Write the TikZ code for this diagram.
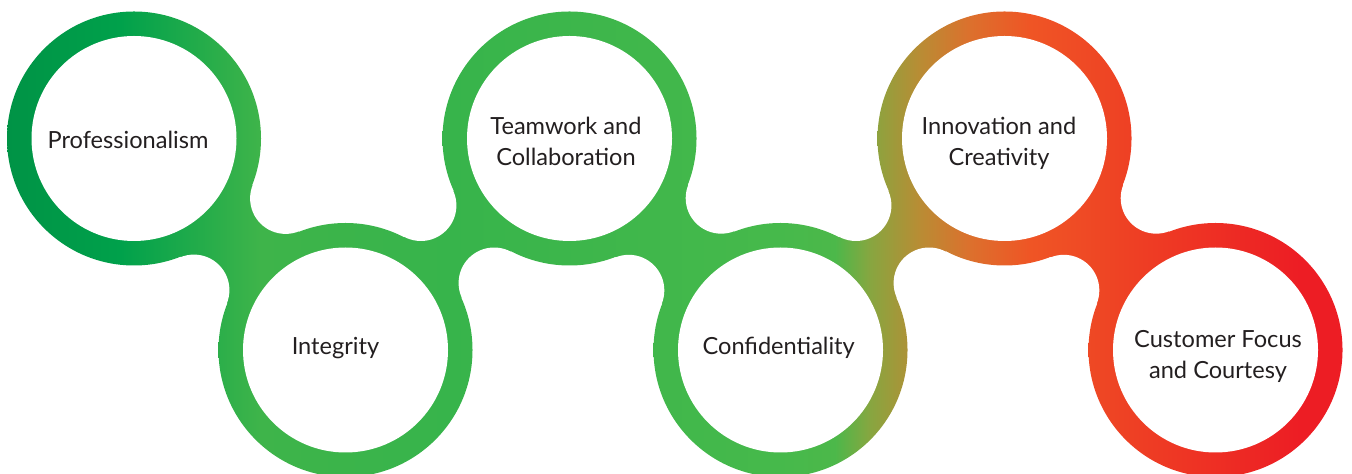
\documentclass[tikz,border=0pt]{standalone}
\usepackage{fontspec}
\setmainfont{Lato}
\definecolor{s0}{RGB}{0,146,69}
\definecolor{s1}{RGB}{0,161,75}
\definecolor{s2}{RGB}{62,180,74}
\definecolor{s3}{RGB}{55,180,75}
\definecolor{s4}{RGB}{70,185,75}
\definecolor{s5}{RGB}{76,184,74}
\definecolor{s6}{RGB}{135,166,64}
\definecolor{s7}{RGB}{185,140,52}
\definecolor{s8}{RGB}{220,112,45}
\definecolor{s9}{RGB}{239,85,37}
\definecolor{s10}{RGB}{238,60,36}
\definecolor{s11}{RGB}{237,29,36}
\definecolor{txt}{RGB}{35,31,32}
\pgfdeclarehorizontalshading{ringshade}{100bp}{color(0bp)=(s0); color(25bp)=(s0); color(29.44bp)=(s1); color(34.6bp)=(s2); color(41.64bp)=(s3); color(53.85bp)=(s4); color(55.88bp)=(s5); color(57.17bp)=(s6); color(59.02bp)=(s7); color(60.87bp)=(s8); color(63.09bp)=(s9); color(67.53bp)=(s10); color(73.08bp)=(s11); color(75bp)=(s11); color(100bp)=(s11)}
\begin{document}
\begin{tikzpicture}[x=0.5pt,y=-0.5pt,
  label/.style={font=\fontsize{11.8}{15.5}\selectfont, text=txt, align=center, inner sep=0pt}]
\useasboundingbox (0,0) rectangle (1352,474);
% circle centres
\coordinate (c1) at (134,138.5);
\coordinate (c2) at (345.5,350);
\coordinate (c3) at (569.5,138.5);
\coordinate (c4) at (780.5,350);
\coordinate (c5) at (1004.5,138.5);
\coordinate (c6) at (1215.5,350);
% fillet centres
\coordinate (f12a) at (285.59,198.41);
\coordinate (f12b) at (193.91,290.09);
\coordinate (f23a) at (494.10,283.01);
\coordinate (f23b) at (420.90,205.49);
\coordinate (f34a) at (721.19,198.17);
\coordinate (f34b) at (628.81,290.33);
\coordinate (f45a) at (929.10,283.01);
\coordinate (f45b) at (855.90,205.49);
\coordinate (f56a) at (1156.19,198.17);
\coordinate (f56b) at (1063.81,290.33);
% gradient rings
\foreach \c in {c1,c2,c3,c4,c5,c6}{
  \begin{scope}
    \clip (\c) circle (127);
    \shade[shading=ringshade] (0,0) rectangle (1352,474);
  \end{scope}}
\foreach \a/\f/\b/\g in {c1/f12a/c2/f12b, c2/f23a/c3/f23b, c3/f34a/c4/f34b, c4/f45a/c5/f45b, c5/f56a/c6/f56b}{
  \begin{scope}
    \clip (\a) -- (\f) -- (\b) -- (\g) -- cycle;
    \shade[shading=ringshade] (0,0) rectangle (1352,474);
  \end{scope}}
% fillets
\foreach \f in {f12a,f12b,f23a,f23b,f34a,f34b,f45a,f45b,f56a,f56b}
  \fill[white] (\f) circle (35.5);
% inner discs
\foreach \c in {c1,c2,c3,c4,c5,c6}
  \fill[white] (\c) circle (102.5);
% labels
\node[label] (t1) at (128,140) {Professionalism};
\node[label] (t2) at (335.5,348) {Integrity};
\node[label] (t3) at (566,141) {Teamwork and\\Collaboration};
\node[label] (t4) at (778.7,348) {Confidentiality};
\node[label] (t5) at (999,143) {Innovation and\\Creativity};
\node[label] (t6) at (1218,356) {Customer Focus\\and Courtesy};
\end{tikzpicture}
\end{document}
